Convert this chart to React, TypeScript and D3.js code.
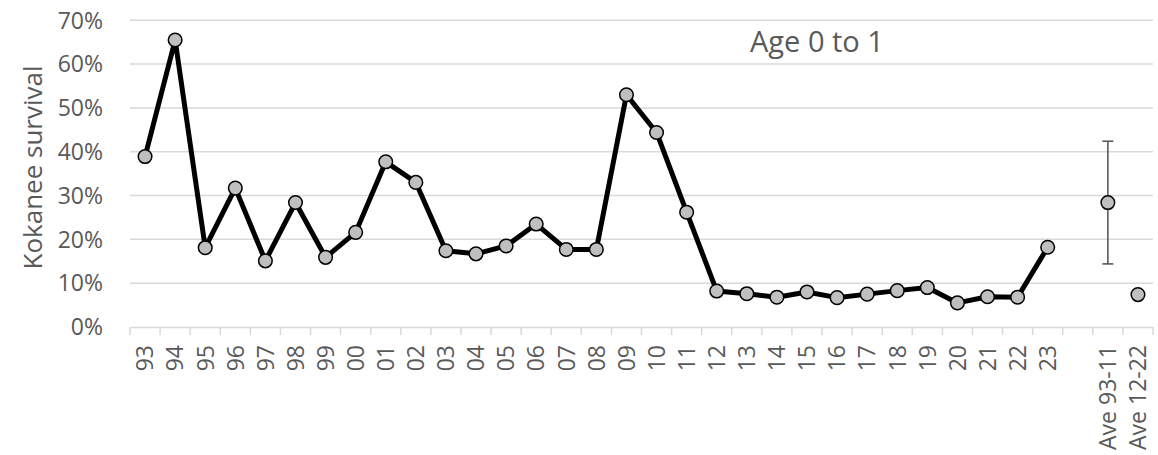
import React, { useRef, useEffect } from 'react';
import * as d3 from 'd3';

const years = [
  '93', '94', '95', '96', '97', '98', '99', '00', '01', '02', '03', '04', '05', '06', '07', '08',
  '09', '10', '11', '12', '13', '14', '15', '16', '17', '18', '19', '20', '21', '22', '23',
];
const survival = [
  0.389, 0.655, 0.181, 0.317, 0.151, 0.284, 0.159, 0.216, 0.377, 0.33, 0.174, 0.167, 0.185,
  0.235, 0.177, 0.177, 0.53, 0.444, 0.262, 0.082, 0.076, 0.068, 0.08, 0.067, 0.075, 0.083,
  0.09, 0.055, 0.069, 0.068, 0.182,
];
const aveLabels = ['Ave 93-11', 'Ave 12-22'];
const aveValues = [0.284, 0.074];
const aveError = [0.14, null];
const categories = [...years, '', ...aveLabels];
const yTicks = [0, 0.1, 0.2, 0.3, 0.4, 0.5, 0.6, 0.7];

const width = 1158;
const height = 455;
const margin = { top: 20.3, right: 5, bottom: 128, left: 130 };
const font = '"Open Sans", sans-serif';
const grey = '#595959';

const App = () => {
  const chartRef = useRef(null);

  useEffect(() => {
    const svg = d3.select(chartRef.current);
    svg.selectAll('*').remove();

    const x = d3
      .scaleBand()
      .domain(categories.map((c, i) => `${i}`))
      .range([margin.left, width - margin.right])
      .paddingInner(0)
      .paddingOuter(0);

    const y = d3
      .scaleLinear()
      .domain([0, 0.7])
      .range([height - margin.bottom, margin.top]);

    const cx = (i) => x(`${i}`) + x.bandwidth() / 2;

    // gridlines
    svg
      .append('g')
      .selectAll('line')
      .data(yTicks.slice(1))
      .enter()
      .append('line')
      .attr('x1', margin.left)
      .attr('x2', width - margin.right)
      .attr('y1', (d) => y(d))
      .attr('y2', (d) => y(d))
      .attr('stroke', '#d9d9d9')
      .attr('stroke-width', 1.5);

    // y labels
    svg
      .append('g')
      .selectAll('text')
      .data(yTicks)
      .enter()
      .append('text')
      .attr('x', 103)
      .attr('y', (d) => y(d))
      .attr('dy', '0.36em')
      .attr('text-anchor', 'end')
      .attr('font-family', font)
      .attr('font-size', 23)
      .attr('fill', grey)
      .text((d) => `${Math.round(d * 100)}%`);

    // x axis
    const xAxis = svg
      .append('g')
      .attr('transform', `translate(0, ${y(0)})`)
      .call(d3.axisBottom(x).tickSize(0).tickFormat(() => ''));
    xAxis.select('.domain').attr('stroke', '#d9d9d9').attr('stroke-width', 1.5);
    xAxis
      .append('g')
      .selectAll('line')
      .data(d3.range(categories.length + 1))
      .enter()
      .append('line')
      .attr('x1', (i) => margin.left + i * x.step())
      .attr('x2', (i) => margin.left + i * x.step())
      .attr('y1', 0)
      .attr('y2', 8)
      .attr('stroke', '#d9d9d9')
      .attr('stroke-width', 1.5);

    svg
      .append('g')
      .selectAll('text')
      .data(categories)
      .enter()
      .append('text')
      .attr('transform', (d, i) => `translate(${cx(i)}, ${y(0) + 18}) rotate(-90)`)
      .attr('dy', '0.36em')
      .attr('text-anchor', 'end')
      .attr('font-family', font)
      .attr('font-size', 23)
      .attr('fill', grey)
      .text((d) => d);

    // axis title
    svg
      .append('text')
      .attr('transform', `translate(33, 167.5) rotate(-90)`)
      .attr('dy', '0.36em')
      .attr('text-anchor', 'middle')
      .attr('font-family', font)
      .attr('font-size', 26)
      .attr('fill', grey)
      .text('Kokanee survival');

    svg
      .append('text')
      .attr('x', 750)
      .attr('y', 51.5)
      .attr('font-family', font)
      .attr('font-size', 29)
      .attr('fill', grey)
      .text('Age 0 to 1');

    // line
    svg
      .append('path')
      .datum(survival)
      .attr('fill', 'none')
      .attr('stroke', '#000')
      .attr('stroke-width', 5)
      .attr('stroke-linejoin', 'round')
      .attr(
        'd',
        d3
          .line()
          .x((d, i) => cx(i))
          .y((d) => y(d)),
      );

    // error bars for averages
    const aveStart = years.length + 1;
    aveValues.forEach((v, j) => {
      const e = aveError[j];
      if (e == null) return;
      const g = svg.append('g').attr('stroke', grey).attr('stroke-width', 1.6);
      const xc = cx(aveStart + j);
      g.append('line').attr('x1', xc).attr('x2', xc).attr('y1', y(v + e)).attr('y2', y(v - e));
      [v + e, v - e].forEach((t) => {
        g.append('line')
          .attr('x1', xc - 5.5)
          .attr('x2', xc + 5.5)
          .attr('y1', y(t))
          .attr('y2', y(t));
      });
    });

    // circles
    const points = [
      ...survival.map((v, i) => ({ i, v })),
      ...aveValues.map((v, j) => ({ i: aveStart + j, v })),
    ];
    svg
      .append('g')
      .selectAll('circle')
      .data(points)
      .enter()
      .append('circle')
      .attr('cx', (d) => cx(d.i))
      .attr('cy', (d) => y(d.v))
      .attr('r', 6.8)
      .attr('fill', '#bfbfbf')
      .attr('stroke', '#000')
      .attr('stroke-width', 1.5);
  }, []);

  return (
    <svg
      ref={chartRef}
      width={width}
      height={height}
      style={{ position: 'absolute', left: 0, top: 0, background: '#fff' }}
    ></svg>
  );
};

export default App;
